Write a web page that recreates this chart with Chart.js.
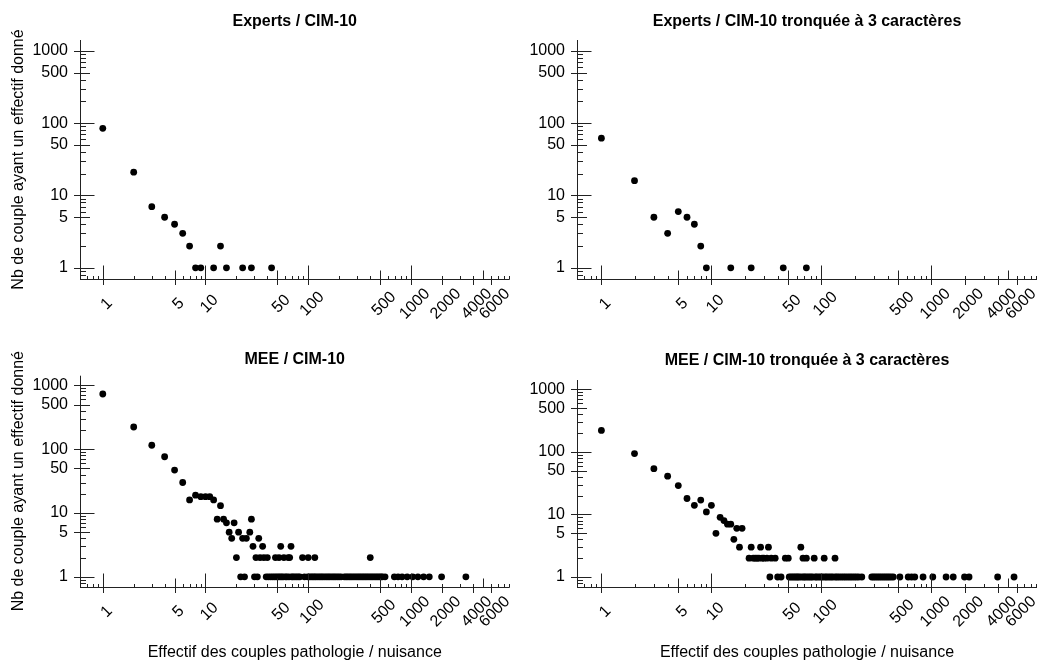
<!DOCTYPE html>
<html>
<head>
<meta charset="utf-8">
<script src="https://cdn.jsdelivr.net/npm/chart.js@4/dist/chart.umd.min.js"></script>
<style>
  html, body { margin: 0; padding: 0; background: #fff; }
  body { width: 1045px; height: 666px; position: relative; overflow: hidden; }
  .panel { position: absolute; }
</style>
</head>
<body>
<div class="panel" style="left:0;top:0;width:522px;height:333px"><canvas id="c1" width="522" height="333"></canvas></div>
<div class="panel" style="left:522px;top:0;width:523px;height:333px"><canvas id="c2" width="523" height="333"></canvas></div>
<div class="panel" style="left:0;top:333px;width:522px;height:333px"><canvas id="c3" width="522" height="333"></canvas></div>
<div class="panel" style="left:522px;top:333px;width:523px;height:333px"><canvas id="c4" width="523" height="333"></canvas></div>
<script>
// ---------- tick labels ----------
const xTickLabels = [1, 5, 10, 50, 100, 500, 1000, 2000, 4000, 6000];
const yTickLabels = [1, 5, 10, 50, 100, 500, 1000];

// ---------- titles ----------
const panelTitles = [
  "Experts / CIM-10",
  "Experts / CIM-10 tronquée à 3 caractères",
  "MEE / CIM-10",
  "MEE / CIM-10 tronquée à 3 caractères"
];
const yAxisTitle = "Nb de couple ayant un effectif donné";
const xAxisTitle = "Effectif des couples pathologie / nuisance";

// ---------- data: Experts / CIM-10 ----------
const expertsCimX = [1, 2, 3, 4, 5, 6, 7, 8, 9, 12, 14, 16, 23, 28, 44];
const expertsCimY = [85, 21, 7, 5, 4, 3, 2, 1, 1, 1, 2, 1, 1, 1, 1];

// ---------- data: Experts / CIM-10 tronquée ----------
const expertsTrX = [1, 2, 3, 4, 5, 6, 7, 8, 9, 15, 23, 45, 73];
const expertsTrY = [62, 16, 5, 3, 6, 5, 4, 2, 1, 1, 1, 1, 1];

// ---------- data: MEE / CIM-10 ----------
const meeCimX = [
  1, 2, 3, 4, 5, 6, 7, 8, 9, 10, 11, 12, 13, 14, 15, 16, 17, 18, 19, 20, 21, 23, 25, 27, 28, 29,
  31, 33, 34, 36, 37, 40, 48, 52, 54, 58, 64, 66, 68, 88, 100, 116, 402,
  22, 24, 30, 32, 39, 41, 43, 45, 47, 49, 51, 53, 55, 57, 60, 62, 65, 69, 71, 74, 77, 80, 83, 92,
  99, 103, 107, 111, 115, 119, 124, 129, 134, 139, 145, 151, 157, 163, 170, 177, 184, 192, 200, 209,
  225, 234, 243, 253, 263, 274, 285, 297, 309, 321, 334, 347, 361, 375, 390, 406, 422, 439, 457, 475, 494, 513, 528,
  560, 690, 750, 820, 920, 1040, 1170, 1330, 1510, 1990, 3430
];
const meeCimY = [
  730, 222, 115, 76, 47, 30, 16, 19, 18, 18, 18, 16, 8, 13, 8, 7, 5, 4, 7, 2, 5, 4, 4, 5, 8, 3,
  2, 4, 2, 3, 2, 2, 2, 2, 3, 2, 2, 2, 3, 2, 2, 2, 2,
  1, 1, 1, 1, 1, 1, 1, 1, 1, 1, 1, 1, 1, 1, 1, 1, 1, 1, 1, 1, 1, 1, 1, 1,
  1, 1, 1, 1, 1, 1, 1, 1, 1, 1, 1, 1, 1, 1, 1, 1, 1, 1, 1, 1,
  1, 1, 1, 1, 1, 1, 1, 1, 1, 1, 1, 1, 1, 1, 1, 1, 1, 1, 1, 1, 1, 1, 1,
  1, 1, 1, 1, 1, 1, 1, 1, 1, 1, 1
];

// ---------- data: MEE / CIM-10 tronquée ----------
const meeTrX = [
  1, 2, 3, 4, 5, 6, 7, 8, 9, 10, 11, 12, 13, 14, 15, 16, 17, 18, 19, 23, 28, 33, 65,
  22, 24, 25, 26, 27, 29, 30, 32, 35, 38, 47, 50, 68, 73, 86, 106, 133,
  34, 40, 43, 51, 53, 55, 57, 59, 61, 63, 66, 69, 71, 74, 77, 80, 83, 88, 91, 95, 99, 103, 108, 112,
  117, 122, 127, 134, 139, 145, 152, 159, 166, 174, 182, 190, 199, 208, 218, 233,
  287, 298, 310, 323, 336, 350, 365, 380, 396, 412, 430, 450,
  517, 615, 660, 706, 840, 1030, 1360, 1580, 2000, 2200, 4000, 5640
];
const meeTrY = [
  221, 94, 54, 41, 29, 18, 14, 17, 11, 14, 5, 9, 8, 7, 7, 4, 6, 3, 6, 3, 3, 3, 3,
  2, 2, 2, 2, 2, 2, 2, 2, 2, 2, 2, 2, 2, 2, 2, 2, 2,
  1, 1, 1, 1, 1, 1, 1, 1, 1, 1, 1, 1, 1, 1, 1, 1, 1, 1, 1, 1, 1, 1, 1, 1,
  1, 1, 1, 1, 1, 1, 1, 1, 1, 1, 1, 1, 1, 1, 1, 1,
  1, 1, 1, 1, 1, 1, 1, 1, 1, 1, 1, 1,
  1, 1, 1, 1, 1, 1, 1, 1, 1, 1, 1, 1
];

// ---------- axis ranges (log) ----------
const xMin = 0.645, xMax = 9120;
const yMin = 0.711, yMax = 1413;

const FONT = '"Liberation Sans", Arial, Helvetica, sans-serif';
Chart.defaults.font.family = FONT;
Chart.defaults.color = '#000';

// R-style axes: inward minor/major ticks, outward ticks at labels, rotated centered x labels
const rAxes = {
  id: 'rAxes',
  afterDraw(chart) {
    const ctx = chart.ctx;
    const xs = chart.scales.x, ys = chart.scales.y;
    const a = chart.chartArea;
    const yb = Math.round(a.bottom) + 0.5;
    const xl = Math.round(a.left) + 0.5;
    ctx.save();
    ctx.strokeStyle = '#222';
    ctx.lineWidth = 1;
    const seg = (x1, y1, x2, y2) => { ctx.beginPath(); ctx.moveTo(x1, y1); ctx.lineTo(x2, y2); ctx.stroke(); };
    // axis lines
    seg(a.left, yb, a.right, yb);
    seg(xl, a.top, xl, a.bottom);
    // x inward ticks
    for (let k = -1; k <= 4; k++) {
      for (let m = 1; m <= 9; m++) {
        const v = m * Math.pow(10, k);
        if (v < xs.min || v > xs.max) continue;
        const px = Math.round(xs.getPixelForValue(v)) + 0.5;
        const len = m === 1 ? 14 : (m === 5 ? 9 : 3.5);
        seg(px, yb, px, yb - len);
      }
    }
    // y inward ticks
    for (let k = -1; k <= 4; k++) {
      for (let m = 1; m <= 9; m++) {
        const v = m * Math.pow(10, k);
        if (v < ys.min || v > ys.max) continue;
        const py = Math.round(ys.getPixelForValue(v)) + 0.5;
        const len = m === 1 ? 14 : (m === 5 ? 9.5 : 5.5);
        seg(xl, py, xl + len, py);
      }
    }
    // outward ticks at labels
    xTickLabels.forEach(v => {
      const px = Math.round(xs.getPixelForValue(v)) + 0.5;
      seg(px, yb, px, yb + 5.5);
    });
    yTickLabels.forEach(v => {
      const py = Math.round(ys.getPixelForValue(v)) + 0.5;
      seg(xl, py, xl - 6.5, py);
    });
    // rotated x tick labels, centred under their tick
    ctx.fillStyle = '#000';
    ctx.font = '16px ' + FONT;
    ctx.textAlign = 'center';
    ctx.textBaseline = 'middle';
    xTickLabels.forEach(v => {
      const px = xs.getPixelForValue(v);
      ctx.save();
      ctx.translate(px + 4, a.bottom + 25);
      ctx.rotate(-Math.PI / 4);
      ctx.fillText(String(v), 0, 0);
      ctx.restore();
    });
    ctx.restore();
  }
};

function makePanel(id, cfg) {
  const pts = cfg.xs.map((x, i) => ({ x: x, y: cfg.ys[i] }));
  return new Chart(document.getElementById(id), {
    type: 'scatter',
    data: {
      datasets: [{
        data: pts,
        backgroundColor: '#000',
        borderColor: '#000',
        borderWidth: 0,
        pointRadius: 3.4,
        pointHoverRadius: 3.4
      }]
    },
    options: {
      responsive: false,
      animation: false,
      devicePixelRatio: 1,
      layout: { padding: { left: 0, right: cfg.padRight, top: 0, bottom: 0 } },
      plugins: {
        legend: { display: false },
        tooltip: { enabled: false },
        title: {
          display: true,
          text: cfg.title,
          fullSize: false,
          color: '#000',
          font: { size: 16, weight: 'bold', family: FONT, lineHeight: 1.2 },
          padding: { top: cfg.titleTop, bottom: cfg.titleBottom }
        }
      },
      scales: {
        x: {
          type: 'logarithmic',
          min: xMin, max: xMax,
          grid: { display: false, drawTicks: false },
          border: { display: false },
          ticks: { display: false },
          afterBuildTicks: s => { s.ticks = xTickLabels.map(v => ({ value: v })); },
          afterFit: s => { s.height = cfg.xHeight; },
          title: {
            display: cfg.showXTitle,
            text: xAxisTitle,
            color: '#000',
            font: { size: 16, family: FONT, lineHeight: 1.2 },
            padding: { top: 0, bottom: 3.4 }
          }
        },
        y: {
          type: 'logarithmic',
          min: yMin, max: yMax,
          grid: { display: false, drawTicks: false },
          border: { display: false },
          ticks: {
            autoSkip: false,
            padding: 12,
            color: '#000',
            font: { size: 16, family: FONT },
            callback: v => String(v)
          },
          afterBuildTicks: s => { s.ticks = yTickLabels.map(v => ({ value: v })); },
          afterFit: s => { s.width = cfg.yWidth; },
          title: {
            display: cfg.showYTitle,
            text: yAxisTitle,
            color: '#000',
            font: { size: 16, family: FONT, lineHeight: 1.2 },
            padding: { top: 8.7, bottom: 0 }
          }
        }
      }
    },
    plugins: [rAxes]
  });
}

makePanel('c1', { xs: expertsCimX, ys: expertsCimY, title: panelTitles[0], padRight: 12.5, yWidth: 80, xHeight: 54, titleTop: 11.9, titleBottom: 8.9, showXTitle: false, showYTitle: true });
makePanel('c2', { xs: expertsTrX, ys: expertsTrY, title: panelTitles[1], padRight: 8, yWidth: 55, xHeight: 54, titleTop: 11.9, titleBottom: 8.9, showXTitle: false, showYTitle: false });
makePanel('c3', { xs: meeCimX, ys: meeCimY, title: panelTitles[2], padRight: 12.5, yWidth: 80, xHeight: 79.3, titleTop: 16.7, titleBottom: 6.8, showXTitle: true, showYTitle: true });
makePanel('c4', { xs: meeTrX, ys: meeTrY, title: panelTitles[3], padRight: 8, yWidth: 55, xHeight: 79.3, titleTop: 18.4, titleBottom: 9.4, showXTitle: true, showYTitle: false });
</script>
</body>
</html>
